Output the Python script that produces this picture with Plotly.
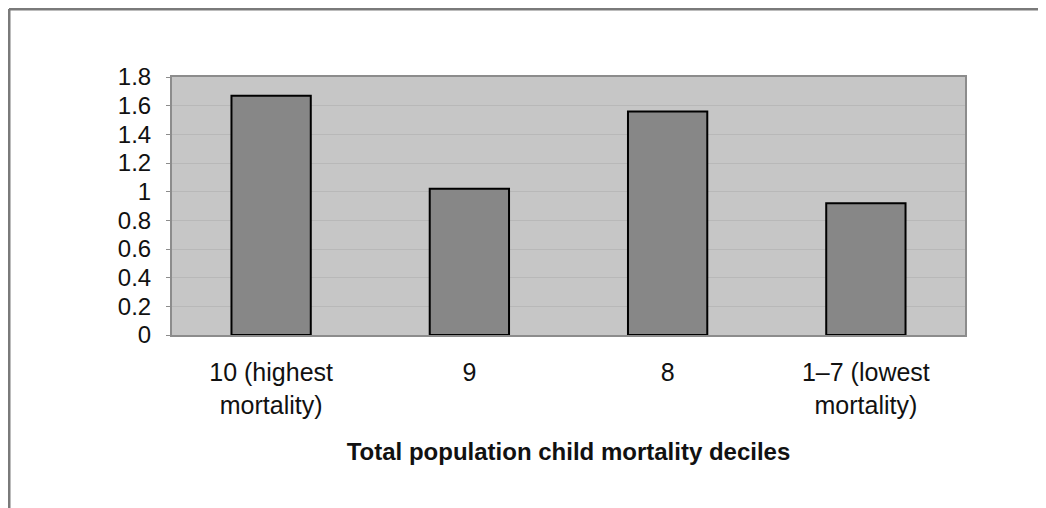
import plotly.graph_objects as go

categories = ["10 (highest<br>mortality)", "9", "8", "1–7 (lowest<br>mortality)"]
values = [1.67, 1.02, 1.56, 0.92]
y_ticks = [0, 0.2, 0.4, 0.6, 0.8, 1, 1.2, 1.4, 1.6, 1.8]
y_tick_labels = ["0", "0.2", "0.4", "0.6", "0.8", "1", "1.2", "1.4", "1.6", "1.8"]
x_title = "Total population child mortality deciles"

font_family = "Liberation Sans, Arial, sans-serif"

W, H = 1046, 508
ML, MR, MT, MB = 164, 89, 69, 181

fig = go.Figure(
    go.Bar(
        x=categories,
        y=values,
        width=0.4,
        marker=dict(color="#878787", line=dict(color="#000000", width=2)),
    )
)

fig.update_layout(
    width=W,
    height=H,
    margin=dict(l=ML, r=MR, t=MT, b=MB),
    paper_bgcolor="white",
    plot_bgcolor="#c6c6c6",
    showlegend=False,
    font=dict(family=font_family, size=24, color="#111111"),
    xaxis=dict(
        title=dict(text="<b>" + x_title + "</b>", font=dict(size=24), standoff=26),
        showline=True,
        linecolor="#8c8c8c",
        linewidth=2,
        mirror=True,
        ticks="",
        ticklabelstandoff=14,
        tickfont=dict(size=25),
    ),
    yaxis=dict(
        range=[0, 1.8],
        tickvals=y_ticks,
        ticktext=y_tick_labels,
        showgrid=True,
        gridcolor="#b8b8b8",
        gridwidth=1,
        showline=True,
        linecolor="#8c8c8c",
        linewidth=2,
        mirror=True,
        zeroline=False,
        ticks="outside",
        ticklen=4,
        tickcolor="#8c8c8c",
        ticklabelstandoff=10,
        tickfont=dict(size=24),
    ),
)

plot_w = W - ML - MR
plot_h = H - MT - MB
left_x = (1 - ML) / plot_w
top_y = (H - MB - 1) / plot_h
fig.layout.shapes = [
    dict(type="line", xref="paper", yref="paper", x0=left_x, x1=(W - ML) / plot_w,
         y0=top_y, y1=top_y, line=dict(color="#7a7a7a", width=3)),
    dict(type="line", xref="paper", yref="paper", x0=left_x, x1=left_x,
         y0=top_y, y1=-MB / plot_h, line=dict(color="#7a7a7a", width=3)),
]

fig.write_html("out.html")
